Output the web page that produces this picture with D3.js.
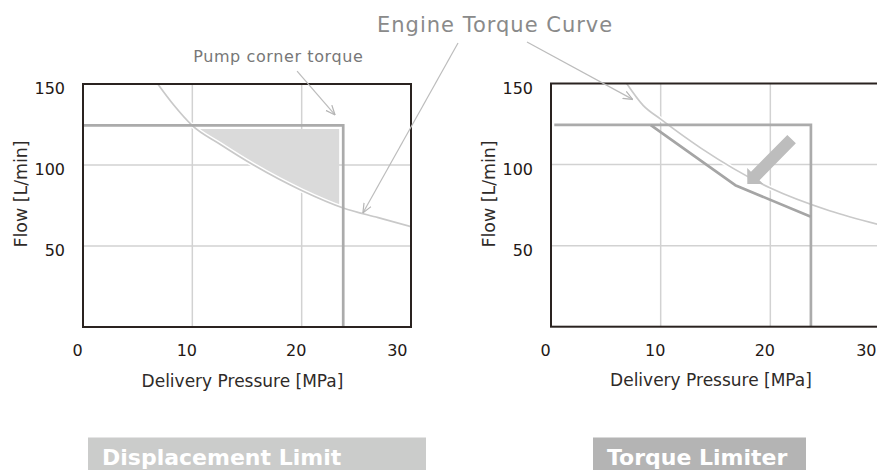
<!DOCTYPE html>
<html>
<head>
<meta charset="utf-8">
<script src="https://cdn.jsdelivr.net/npm/d3@7"></script>
<style>
  html, body { margin: 0; padding: 0; background: #fff; }
  svg { display: block; font-family: "DejaVu Sans", Verdana, sans-serif; }
</style>
</head>
<body>
<svg id="chart" width="877" height="470"></svg>
<script>
// ---- axis ticks ----
const pressureTicks = [0, 10, 20, 30];
const flowTicks = [50, 100, 150];
const pressureGrid = [10, 20];
const flowGrid = [50, 100];

// ---- engine torque curve (pressure MPa, flow L/min) ----
const enginePressureA = [6.84, 8.3, 10, 12.5, 15.6, 20, 23.8, 27, 30];
const engineFlowA     = [150, 137, 124.3, 113, 100, 84.3, 73.5, 67.5, 62];
const enginePressureB = [6.9, 8.4, 10, 13.7, 20, 25.4, 30];
const engineFlowB     = [150, 136.5, 128, 110, 85.5, 71.5, 62.8];

// ---- pump displacement-limit line ----
const pumpPressureA = [0, 23.8, 23.8];
const pumpFlowA     = [124.5, 124.5, 0];
const pumpPressureB = [0.3, 23.7, 23.7];
const pumpFlowB     = [124.5, 124.5, 0];

// ---- torque limiter line ----
const limiterPressure = [9.1, 16.8, 23.7];
const limiterFlow     = [124.3, 87.3, 67.8];

// ---- region where pump demand exceeds engine torque ----
const shadeTopFlow = 122.2;
const shadeMaxPressure = 23.43;

// ---- shift arrow (from -> to) ----
const shiftPressure = [21.94, 17.9];
const shiftFlow     = [115.7, 88.0];

// ---- leader lines for annotations (from -> to) ----
const cornerLeaderPressure  = [19.58, 23.05];
const cornerLeaderFlow      = [158, 130.9];
const engineLeaderPressureA = [34.3, 25.6];
const engineLeaderFlowA     = [175.3, 70.4];
const engineLeaderPressureB = [-2.19, 7.45];
const engineLeaderFlowB     = [175.6, 140.2];

// ---- text ----
const panelNames = ["Displacement Limit", "Torque Limiter"];
const xTitle = "Delivery Pressure [MPa]";
const yTitle = "Flow [L/min]";
const engineLabel = "Engine Torque Curve";
const cornerLabel = "Pump corner torque";

const zip = (xs, ys) => xs.map((v, i) => [v, ys[i]]);

const svg = d3.select("#chart");
const defs = svg.append("defs");

defs.append("marker")
  .attr("id", "openHead")
  .attr("viewBox", "0 0 10 10")
  .attr("refX", 9.5).attr("refY", 5)
  .attr("markerWidth", 10).attr("markerHeight", 10)
  .attr("markerUnits", "userSpaceOnUse")
  .attr("orient", "auto")
  .append("path")
  .attr("d", "M0,1 L9.5,5 L0,9")
  .attr("fill", "none")
  .attr("stroke", "#b4b4b4")
  .attr("stroke-width", 1.2);

const panels = [
  {
    id: "a", x0: 83, x1: 411, yb: 327, yt: 84,
    engine: zip(enginePressureA, engineFlowA),
    pump: zip(pumpPressureA, pumpFlowA),
    shade: true, limiter: null, shift: null,
    label: panelNames[0], box: [88, 426], fill: "#cbcccb"
  },
  {
    id: "b", x0: 551, x1: 880, yb: 326.7, yt: 83.5,
    engine: zip(enginePressureB, engineFlowB),
    pump: zip(pumpPressureB, pumpFlowB),
    shade: false,
    limiter: zip(limiterPressure, limiterFlow),
    shift: zip(shiftPressure, shiftFlow),
    label: panelNames[1], box: [593, 806], fill: "#b4b4b4"
  }
];

panels.forEach(p => {
  const x = d3.scaleLinear().domain([0, 30]).range([p.x0, p.x1]);
  const y = d3.scaleLinear().domain([0, 150]).range([p.yb, p.yt]);
  p.x = x; p.y = y;
  const g = svg.append("g");

  defs.append("clipPath").attr("id", "clip-" + p.id)
    .append("rect")
    .attr("x", x(0)).attr("y", y(150))
    .attr("width", x(30) - x(0)).attr("height", y(0) - y(150));

  // grid
  g.selectAll(".gx").data(pressureGrid).join("line")
    .attr("x1", d => x(d)).attr("x2", d => x(d))
    .attr("y1", y(0)).attr("y2", y(150))
    .attr("stroke", "#d2d2d2").attr("stroke-width", 1.5);
  g.selectAll(".gy").data(flowGrid).join("line")
    .attr("x1", x(0)).attr("x2", x(30))
    .attr("y1", d => y(d)).attr("y2", d => y(d))
    .attr("stroke", "#d2d2d2").attr("stroke-width", 1.5);

  const plot = g.append("g").attr("clip-path", `url(#clip-${p.id})`);
  const curve = d3.curveMonotoneX;

  if (p.shade) {
    defs.append("clipPath").attr("id", "shade-" + p.id)
      .append("rect")
      .attr("x", x(0)).attr("y", y(shadeTopFlow))
      .attr("width", x(shadeMaxPressure) - x(0))
      .attr("height", y(0) - y(shadeTopFlow));
    plot.append("path")
      .datum(p.engine)
      .attr("clip-path", `url(#shade-${p.id})`)
      .attr("d", d3.area().curve(curve)
        .x(d => x(d[0])).y0(y(shadeTopFlow)).y1(d => y(d[1])))
      .attr("fill", "#dadada");
  }

  const line = d3.line().x(d => x(d[0])).y(d => y(d[1]));

  // engine torque curve
  plot.append("path").datum(p.engine)
    .attr("d", line.curve(curve))
    .attr("fill", "none").attr("stroke", "#fff").attr("stroke-width", 4.5);
  plot.append("path").datum(p.engine)
    .attr("d", line.curve(curve))
    .attr("fill", "none").attr("stroke", "#c9c9c9").attr("stroke-width", 1.7);

  line.curve(d3.curveLinear);

  // pump line
  plot.append("path").datum(p.pump)
    .attr("d", line)
    .attr("fill", "none").attr("stroke", "#ababab").attr("stroke-width", 2.7);

  if (p.limiter) {
    plot.append("path").datum(p.limiter)
      .attr("d", line)
      .attr("fill", "none").attr("stroke", "#a5a5a5").attr("stroke-width", 2.7)
      .attr("stroke-linejoin", "round");
  }

  if (p.shift) {
    const [ax, ay] = [x(p.shift[0][0]), y(p.shift[0][1])];
    const [bx, by] = [x(p.shift[1][0]), y(p.shift[1][1])];
    const len = Math.hypot(bx - ax, by - ay);
    const ux = (bx - ax) / len, uy = (by - ay) / len;
    const nx = -uy, ny = ux;
    const hw = 6, hh = 11.3, hl = 11.3;
    const cx = bx - ux * hl, cy = by - uy * hl;
    const pts = [
      [ax + nx * hw, ay + ny * hw],
      [cx + nx * hw, cy + ny * hw],
      [cx + nx * hh, cy + ny * hh],
      [bx, by],
      [cx - nx * hh, cy - ny * hh],
      [cx - nx * hw, cy - ny * hw],
      [ax - nx * hw, ay - ny * hw]
    ];
    g.append("polygon")
      .attr("points", pts.map(q => q.join(",")).join(" "))
      .attr("fill", "#bdbdbd");
  }

  // plot frame
  g.append("rect")
    .attr("x", x(0)).attr("y", y(150))
    .attr("width", x(30) - x(0)).attr("height", y(0) - y(150))
    .attr("fill", "none").attr("stroke", "#2a2320").attr("stroke-width", 2);

  // axes
  const xa = g.append("g").attr("transform", `translate(0,${y(0)})`)
    .call(d3.axisBottom(x).tickValues(pressureTicks).tickSize(0).tickPadding(18));
  xa.select(".domain").remove();
  xa.selectAll("text")
    .attr("font-size", 16).attr("font-family", "DejaVu Sans")
    .attr("fill", "#231815")
    .attr("dx", -6)
    .filter(d => d === 30).attr("text-anchor", "end").attr("dx", -4);

  const ya = g.append("g").attr("transform", `translate(${x(0)},0)`)
    .call(d3.axisLeft(y).tickValues(flowTicks).tickSize(0).tickPadding(18));
  ya.select(".domain").remove();
  ya.selectAll("text")
    .attr("font-size", 16).attr("font-family", "DejaVu Sans")
    .attr("fill", "#231815")
    .attr("dy", "0.6em");

  // axis titles
  g.append("text")
    .attr("x", (x(0) + x(30)) / 2 - 4.5).attr("y", y(0) + 59.7)
    .attr("text-anchor", "middle")
    .attr("font-size", 17).attr("fill", "#2e2a28")
    .text(xTitle);
  g.append("text")
    .attr("transform", `translate(${x(0) - 56.5},194) rotate(-90)`)
    .attr("text-anchor", "middle")
    .attr("font-size", 17.4).attr("fill", "#2e2a28")
    .text(yTitle);

  // panel caption
  svg.append("rect")
    .attr("x", p.box[0]).attr("y", 437.5)
    .attr("width", p.box[1] - p.box[0]).attr("height", 40)
    .attr("fill", p.fill);
  svg.append("text")
    .attr("x", p.box[0] + 14).attr("y", 465)
    .attr("font-size", 22).attr("font-weight", "bold")
    .attr("fill", "#fff")
    .text(p.label);
});

const [A, B] = panels;

// leader lines
function leader(panel, ps, fs) {
  svg.append("line")
    .attr("x1", panel.x(ps[0])).attr("y1", panel.y(fs[0]))
    .attr("x2", panel.x(ps[1])).attr("y2", panel.y(fs[1]))
    .attr("stroke", "#bcbcbc").attr("stroke-width", 1.2)
    .attr("marker-end", "url(#openHead)");
}
leader(A, cornerLeaderPressure, cornerLeaderFlow);
leader(A, engineLeaderPressureA, engineLeaderFlowA);
leader(B, engineLeaderPressureB, engineLeaderFlowB);

// annotation labels
svg.append("text")
  .attr("x", 278.3).attr("y", 61.7)
  .attr("text-anchor", "middle")
  .attr("font-size", 16).attr("letter-spacing", 0.6)
  .attr("fill", "#777")
  .text(cornerLabel);

svg.append("text")
  .attr("x", 377).attr("y", 32.3)
  .attr("font-size", 21).attr("letter-spacing", 1)
  .attr("fill", "#8a8a8a")
  .text(engineLabel);
</script>
</body>
</html>
